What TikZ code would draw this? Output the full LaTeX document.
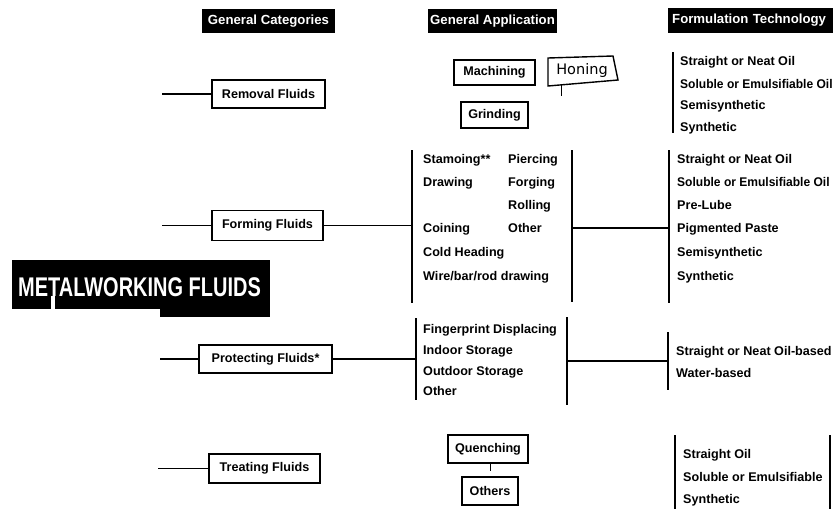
\documentclass[tikz,border=0pt]{standalone}
\usepackage{fontspec}
\setmainfont{Liberation Sans}
\newfontfamily\handfont{DejaVu Sans}
\newcommand\itemfont{\bfseries\fontsize{12.6}{14}\selectfont}
\newcommand\hdrfont{\bfseries\fontsize{13.2}{15}\selectfont}
\newcommand\bannerfont{\bfseries\fontsize{27}{30}\selectfont}
\newcommand\squeeze[1]{\scalebox{0.955}[1]{#1}}
\begin{document}
\begin{tikzpicture}[x=1pt,y=-1pt,
  hdr/.style={fill=black,text=white,font=\hdrfont,inner sep=0pt,minimum height=24pt},
  catbox/.style={draw,line width=1.2pt,font=\itemfont,inner sep=0pt},
  item/.style={anchor=west,inner sep=0pt,font=\itemfont,text height=9pt,text depth=2.5pt},
  conn/.style={line width=1.8pt},
  bar/.style={line width=1.3pt},
  tick/.style={line width=1pt}]
\useasboundingbox (0,0) rectangle (833,509);

% column headings
\node[hdr,minimum width=133pt] (hcat) at (268.5,21) {General Categories};
\node[hdr,minimum width=129pt] (happ) at (492.5,21) {General Application};
\node[hdr,minimum height=25pt,anchor=west,text width=168pt,align=left,inner xsep=4pt] (hfor) at (668,20) {Formulation Technology};

% title banner
\fill (12,260) rectangle (270,309);
\fill (160,300) rectangle (270,317);
\node[text=white,font=\bannerfont,inner sep=0pt] (mwf) at (139.5,287) {\scalebox{0.74}[1]{METALWORKING FLUIDS}};
\fill[white] (50.5,296) rectangle (55,309);

% ---------------- Removal fluids ----------------
\node[catbox,minimum width=113pt,minimum height=28pt] (rem) at (268.5,94) {Removal Fluids};
\coordinate (remL) at (162,94);
\draw[conn] (remL) -- (rem.west);

\node[catbox,minimum width=81pt,minimum height=25pt] (mach) at (494.5,72.5) {Machining};
\node[font=\handfont\fontsize{14.5}{16}\selectfont,inner sep=0pt] (hon) at (582,70) {Honing};
\draw[line width=1.4pt] (548,58) -- (613,56) -- (618,80) -- (548,86) -- cycle;
\coordinate (honT) at (561,85);
\draw[tick] (honT) -- ++(0,11);
\node[catbox,minimum width=67pt,minimum height=26pt] (grind) at (494.5,115) {Grinding};

\coordinate (rf1) at (673,52);
\coordinate (rf2) at (673,133);
\draw[bar] (rf1) -- (rf2);
\node[item] (rf-a) at (680,62) {Straight or Neat Oil};
\node[item] (rf-b) at (680,85) {\squeeze{Soluble or Emulsifiable Oil}};
\node[item] (rf-c) at (680,106) {Semisynthetic};
\node[item] (rf-d) at (680,128) {Synthetic};

% ---------------- Forming fluids ----------------
\node[catbox,minimum width=111pt,minimum height=30pt] (form) at (267.5,225.5) {Forming Fluids};
\coordinate (formL) at (162,225.5);
\draw[conn] (formL) -- (form.west);

\coordinate (fa1) at (412,150);
\coordinate (fa2) at (412,303);
\coordinate (fa3) at (572,150);
\coordinate (fa4) at (572,302);
\draw[bar] (fa1) -- (fa2);
\draw[bar] (fa3) -- (fa4);
\draw[conn] (form.east) -- (form.east -| fa1);
\node[item] (fa-a) at (423,160) {Stamoing**};
\node[item] (fa-b) at (508,160) {Piercing};
\node[item] (fa-c) at (423,183) {Drawing};
\node[item] (fa-d) at (508,183) {Forging};
\node[item] (fa-e) at (508,206) {Rolling};
\node[item] (fa-f) at (423,229) {Coining};
\node[item] (fa-g) at (508,229) {Other};
\node[item] (fa-h) at (423,253) {Cold Heading};
\node[item] (fa-i) at (423,277) {Wire/bar/rod drawing};

\coordinate (ff1) at (669,150);
\coordinate (ff2) at (669,303);
\draw[bar] (ff1) -- (ff2);
\draw[conn] (572,228) coordinate (ffm) -- (ffm -| ff1);
\node[item] (ff-a) at (677,160) {Straight or Neat Oil};
\node[item] (ff-b) at (677,183) {\squeeze{Soluble or Emulsifiable Oil}};
\node[item] (ff-c) at (677,206) {Pre-Lube};
\node[item] (ff-d) at (677,229) {Pigmented Paste};
\node[item] (ff-e) at (677,253) {Semisynthetic};
\node[item] (ff-f) at (677,277) {Synthetic};

% ---------------- Protecting fluids ----------------
\node[catbox,minimum width=133pt,minimum height=28pt] (prot) at (265.5,359) {Protecting Fluids*};
\coordinate (protL) at (160,359);
\draw[conn] (protL) -- (prot.west);

\coordinate (pa1) at (416,318);
\coordinate (pa2) at (416,400);
\coordinate (pa3) at (567,317);
\coordinate (pa4) at (567,405);
\draw[bar] (pa1) -- (pa2);
\draw[bar] (pa3) -- (pa4);
\draw[conn] (prot.east) -- (prot.east -| pa1);
\node[item] (pa-a) at (423,330) {Fingerprint Displacing};
\node[item] (pa-b) at (423,351) {Indoor Storage};
\node[item] (pa-c) at (423,372) {Outdoor Storage};
\node[item] (pa-d) at (423,392) {Other};

\coordinate (pf1) at (668,332);
\coordinate (pf2) at (668,390);
\draw[bar] (pf1) -- (pf2);
\draw[conn] (567,361) coordinate (pfm) -- (pfm -| pf1);
\node[item] (pf-a) at (676,352) {Straight or Neat Oil-based};
\node[item] (pf-b) at (676,374) {Water-based};

% ---------------- Treating fluids ----------------
\node[catbox,minimum width=111pt,minimum height=29pt] (treat) at (264.5,468.5) {Treating Fluids};
\coordinate (treatL) at (158,468.5);
\draw[conn] (treatL) -- (treat.west);

\node[catbox,minimum width=80pt,minimum height=28pt] (quench) at (488,449) {Quenching};
\node[catbox,minimum width=56pt,minimum height=28pt] (others) at (490,491) {Others};
\draw[tick] (quench.south -| others.north) -- ++(0,7);

\coordinate (tf1) at (675,435);
\coordinate (tf2) at (675,509);
\coordinate (tf3) at (830,435);
\coordinate (tf4) at (830,509);
\draw[bar] (tf1) -- (tf2);
\draw[bar] (tf3) -- (tf4);
\node[item] (tf-a) at (683,455) {Straight Oil};
\node[item] (tf-b) at (683,478) {Soluble or Emulsifiable};
\node[item] (tf-c) at (683,500) {Synthetic};
\end{tikzpicture}
\end{document}
